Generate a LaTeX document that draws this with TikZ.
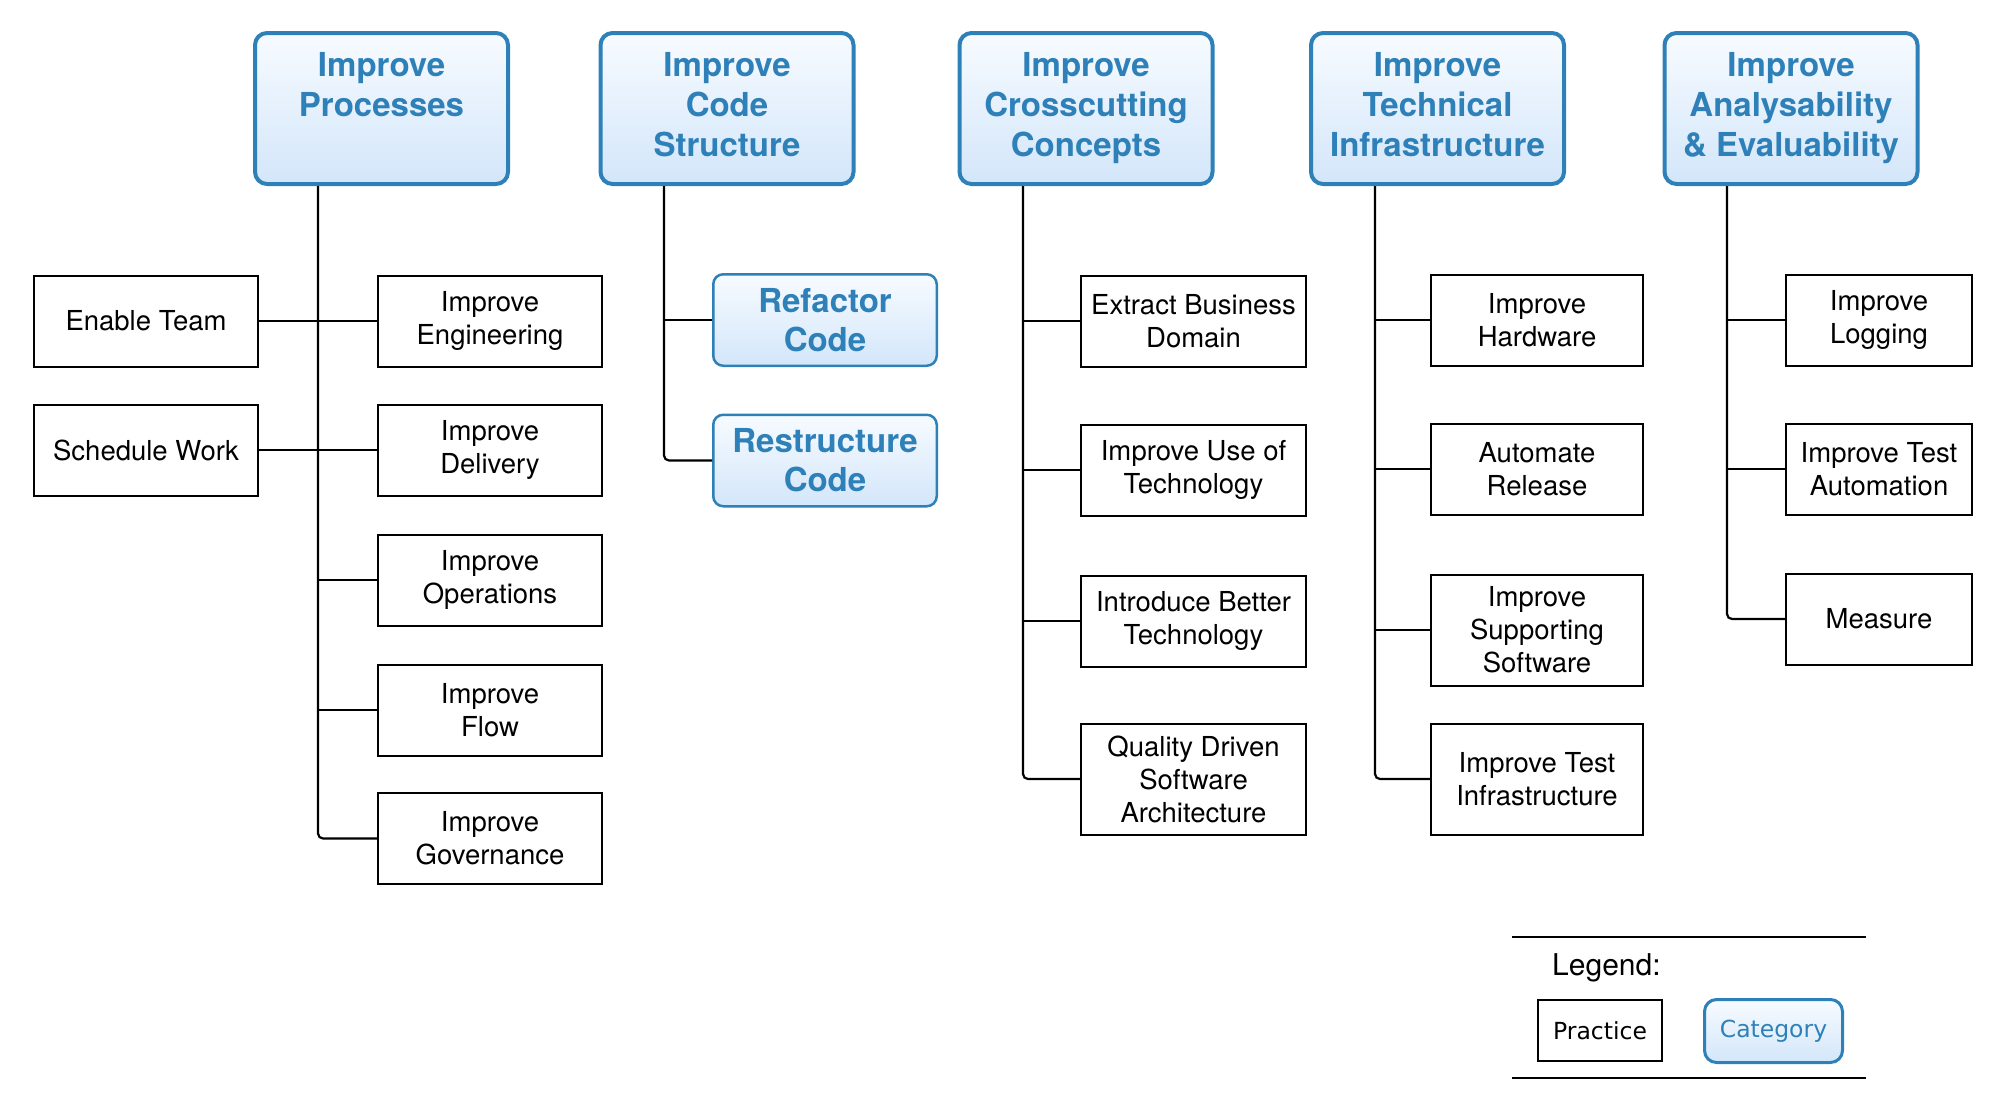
\documentclass[tikz,border=0pt]{standalone}
\usepackage{fontspec}
\setmainfont{TeX Gyre Heros}
\newfontfamily\legendfont{DejaVu Sans}
\usepackage{tikz}
\usetikzlibrary{positioning}
\usepackage{xcolor}
\definecolor{catblue}{HTML}{2E80B9}
\definecolor{cattop}{HTML}{F7FBFF}
\definecolor{catbottom}{HTML}{D3E6FA}

\begin{document}
\begin{tikzpicture}[x=1pt, y=-1pt,
        practice/.style={draw, line width=2pt, align=center, inner sep=0pt,
            font=\fontsize{27.5}{33}\selectfont, minimum height=91},
        category/.style={draw=catblue, line width=4pt, rounded corners=12pt,
            top color=cattop, bottom color=catbottom, text=catblue, align=center,
            inner sep=0pt, font=\fontsize{33}{40}\selectfont\bfseries,
            minimum width=253, minimum height=151},
        subcategory/.style={category, line width=2.5pt, rounded corners=10pt,
            font=\fontsize{33}{39}\selectfont\bfseries,
            minimum width=223.5, minimum height=91.5},
        link/.style={line width=2.2pt, rounded corners=5pt}]
        \useasboundingbox (0,0) rectangle (2002,1111);

        % Categories
        \node[category] (proc)  at (381.5,108.5)  {\strut Improve\\Processes\\\strut};
        \node[category] (code)  at (727,108.5)    {\strut Improve\\Code\\Structure\strut};
        \node[category] (cross) at (1086,108.5)   {\strut Improve\\Crosscutting\\Concepts\strut};
        \node[category] (tech)  at (1437.5,108.5) {\strut Improve\\Technical\\Infrastructure\strut};
        \node[category] (anal)  at (1791,108.5)   {\strut Improve\\Analysability\\\& Evaluability\strut};

        % Trunk tops
        \coordinate (procT)  at ([xshift=-63.5]proc.south);
        \coordinate (codeT)  at ([xshift=-63]code.south);
        \coordinate (crossT) at ([xshift=-63]cross.south);
        \coordinate (techT)  at ([xshift=-62.5]tech.south);
        \coordinate (analT)  at ([xshift=-64]anal.south);

        % Processes
        \node[practice, minimum width=224] (team)  at (146,321)   {Enable Team};
        \node[practice, minimum width=224] (sched) at (146,450)   {Schedule Work};
        \node[practice, minimum width=224] (eng)   at (490,321)   {Improve\\Engineering};
        \node[practice, minimum width=224] (deliv) at (490,450)   {Improve\\Delivery};
        \node[practice, minimum width=224] (ops)   at (490,580)   {Improve\\Operations};
        \node[practice, minimum width=224] (flow)  at (490,710)   {Improve\\Flow};
        \node[practice, minimum width=224] (gov)   at (490,838.5) {Improve\\Governance};

        % Code structure
        \node[subcategory] (refac) at (825,320)   {Refactor\\Code};
        \node[subcategory] (restr) at (825,460.5) {Restructure\\Code};

        % Crosscutting concepts
        \node[practice, minimum width=225] (extract) at (1193.5,321) {Extract Business\\Domain};
        \node[practice, minimum width=225] (useof)   at (1193.5,470) {Improve Use of\\Technology};
        \node[practice, minimum width=225] (better)  at (1193.5,621) {Introduce Better\\Technology};
        \node[practice, minimum width=225, minimum height=111] (quality) at (1193.5,779) {Quality Driven\\Software\\Architecture};

        % Technical infrastructure
        \node[practice, minimum width=212] (hw)      at (1537,320) {Improve\\Hardware};
        \node[practice, minimum width=212] (release) at (1537,469) {Automate\\Release};
        \node[practice, minimum width=212, minimum height=111] (support) at (1537,630) {Improve\\Supporting\\Software};
        \node[practice, minimum width=212, minimum height=111] (testinf) at (1537,779) {Improve Test\\Infrastructure};

        % Analysability & evaluability
        \node[practice, minimum width=186] (logging)  at (1879,320) {Improve\\Logging};
        \node[practice, minimum width=186] (testauto) at (1879,469) {Improve Test\\Automation};
        \node[practice, minimum width=186] (measure)  at (1879,619) {Measure};

        % Links
        \draw[link] (procT) |- (gov.west);
        \draw[link] (team.east) -- (team.east -| procT);
        \draw[link] (sched.east) -- (sched.east -| procT);
        \draw[link] (eng.west) -- (eng.west -| procT);
        \draw[link] (deliv.west) -- (deliv.west -| procT);
        \draw[link] (ops.west) -- (ops.west -| procT);
        \draw[link] (flow.west) -- (flow.west -| procT);

        \draw[link] (codeT) |- (restr.west);
        \draw[link] (refac.west) -- (refac.west -| codeT);

        \draw[link] (crossT) |- (quality.west);
        \draw[link] (extract.west) -- (extract.west -| crossT);
        \draw[link] (useof.west) -- (useof.west -| crossT);
        \draw[link] (better.west) -- (better.west -| crossT);

        \draw[link] (techT) |- (testinf.west);
        \draw[link] (hw.west) -- (hw.west -| techT);
        \draw[link] (release.west) -- (release.west -| techT);
        \draw[link] (support.west) -- (support.west -| techT);

        \draw[link] (analT) |- (measure.west);
        \draw[link] (logging.west) -- (logging.west -| analT);
        \draw[link] (testauto.west) -- (testauto.west -| analT);

        % Legend
        \draw[line width=2.5pt] (1512,937) -- (1866,937);
        \draw[line width=2.5pt] (1512,1078) -- (1866,1078);
        \node[anchor=base west, inner sep=0pt, font=\fontsize{30}{36}\selectfont] (legend) at (1552,975) {Legend:};
        \node[practice, minimum width=124, minimum height=61, font=\legendfont\fontsize{23.5}{28}\selectfont] (lprac) at (1600,1030.5) {Practice};
        \node[subcategory, line width=3pt, rounded corners=12pt, minimum width=138, minimum height=63,
            font=\legendfont\fontsize{23.5}{28}\selectfont] (lcat) at (1773.5,1031) {Category\vphantom{P}};
    \end{tikzpicture}
\end{document}
